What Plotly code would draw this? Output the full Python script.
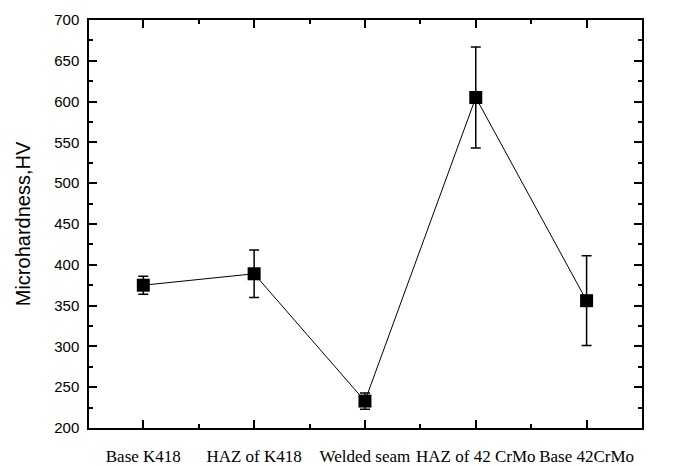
import plotly.graph_objects as go

categories = ["Base K418", "HAZ of K418", "Welded seam", "HAZ of 42 CrMo", "Base 42CrMo"]
hardness = [375, 389, 233, 605, 356]
errors = [11, 29, 10, 62, 55]

x_pos = list(range(len(categories)))

fig = go.Figure()
fig.add_trace(go.Scatter(
    x=x_pos, y=hardness,
    mode="lines+markers",
    line=dict(color="black", width=1),
    marker=dict(symbol="square", size=13, color="black"),
    error_y=dict(type="data", array=errors, visible=True, color="black", thickness=1.5, width=5),
    showlegend=False,
))

fig.update_layout(
    width=673, height=466,
    margin=dict(l=89, r=31, t=20, b=38),
    paper_bgcolor="white", plot_bgcolor="white",
)
fig.update_xaxes(
    range=[-0.49, 4.5],
    tickmode="array", tickvals=x_pos, ticktext=categories,
    tickfont=dict(family="Liberation Serif", size=17, color="black"),
    ticks="inside", ticklen=8, tickwidth=1.5, tickcolor="black",
    minor=dict(dtick=0.5, tick0=0, ticks="inside", ticklen=4, tickwidth=1.5, tickcolor="black"),
    showline=True, linecolor="black", linewidth=1.5, mirror="ticks",
    showgrid=False, zeroline=False,
    ticklabelstandoff=12, automargin=False,
)
fig.update_yaxes(
    range=[200, 700],
    tickmode="linear", tick0=200, dtick=50,
    tickfont=dict(family="Liberation Sans", size=15, color="black"),
    ticks="inside", ticklen=8, tickwidth=1.5, tickcolor="black",
    minor=dict(dtick=25, ticks="inside", ticklen=4, tickwidth=1.5, tickcolor="black"),
    showline=True, linecolor="black", linewidth=1.5, mirror="ticks",
    showgrid=False, zeroline=False, automargin=False,
    ticklabelstandoff=5,
    title=dict(text="Microhardness,HV", font=dict(family="Liberation Sans", size=20, color="black"), standoff=18),
)

fig.write_html("out.html")
